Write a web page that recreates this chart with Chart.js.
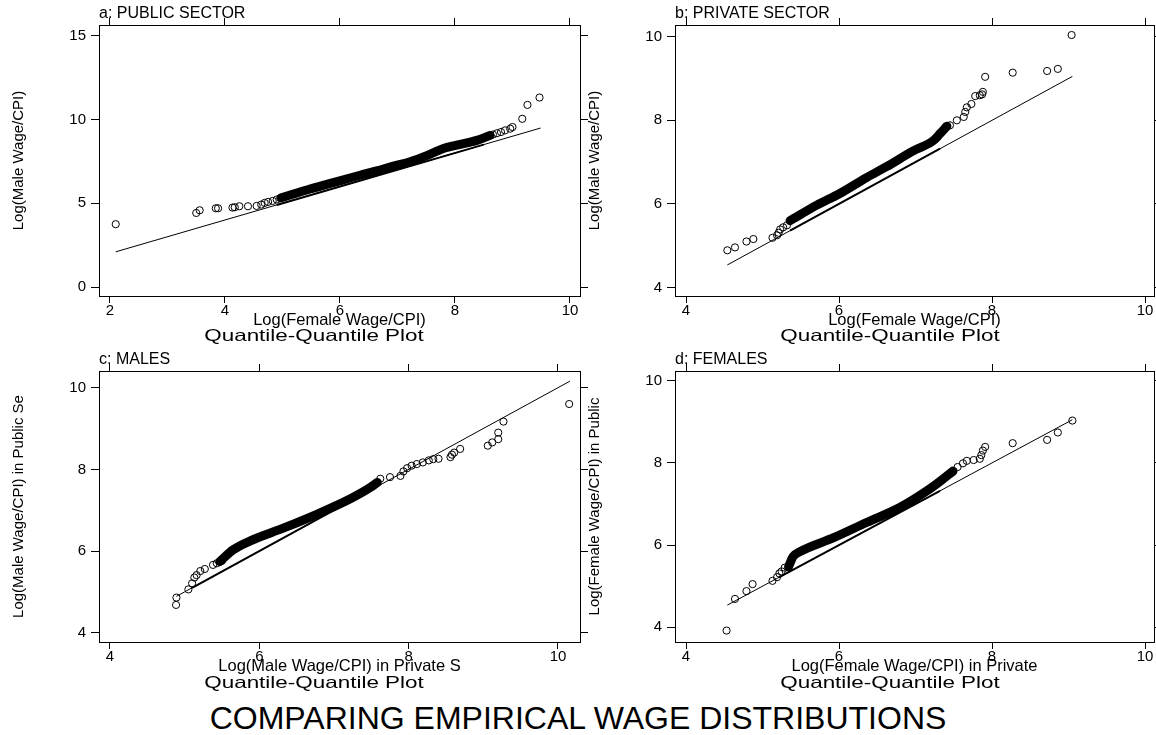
<!DOCTYPE html>
<html>
<head>
<meta charset="utf-8">
<script src="https://cdn.jsdelivr.net/npm/chart.js@4.4.1/dist/chart.umd.min.js"></script>
<style>
  html, body { margin: 0; padding: 0; background: #fff; }
  body { width: 1156px; height: 735px; position: relative; overflow: hidden; font-family: "Liberation Sans", Arial, sans-serif; color: #000; }
  canvas { position: absolute; }
  .sub { position: absolute; width: 400px; text-align: center; font-size: 16.5px; line-height: 1; white-space: nowrap;
         transform: scaleX(1.36); transform-origin: 50% 50%; }
  #mainTitle { position: absolute; left: 0; width: 1156px; top: 702px; text-align: center; font-size: 32px; line-height: 1; white-space: nowrap; }
</style>
</head>
<body>
<canvas id="qqA" width="600" height="350" style="left:0px;top:0px"></canvas>
<canvas id="qqB" width="590" height="350" style="left:576px;top:0px"></canvas>
<canvas id="qqC" width="600" height="350" style="left:0px;top:346px"></canvas>
<canvas id="qqD" width="590" height="350" style="left:576px;top:346px"></canvas>
<div class="sub" style="left:114px;top:327px">Quantile-Quantile Plot</div>
<div class="sub" style="left:690px;top:327px">Quantile-Quantile Plot</div>
<div class="sub" style="left:114px;top:673.5px">Quantile-Quantile Plot</div>
<div class="sub" style="left:690px;top:673.5px">Quantile-Quantile Plot</div>
<div id="mainTitle">COMPARING EMPIRICAL WAGE DISTRIBUTIONS</div>
<script>
const FONT = '"Liberation Sans", Arial, sans-serif';

// a: public sector, female vs male quantiles
const xTicksA = [2, 4, 6, 8, 10];
const yTicksA = [0, 5, 10, 15];
const ptsAx = [2.10, 3.50, 3.56, 3.84, 3.88, 4.13, 4.17, 4.25, 4.40, 4.55, 4.63, 4.69, 4.75, 4.83, 4.90, 4.96,
               8.66, 8.73, 8.80, 8.87, 8.96, 9.00, 9.17, 9.26, 9.47];
const ptsAy = [3.75, 4.42, 4.58, 4.70, 4.70, 4.74, 4.76, 4.82, 4.82, 4.84, 4.92, 5.02, 5.08, 5.14, 5.22, 5.30,
               9.10, 9.18, 9.25, 9.35, 9.45, 9.55, 10.04, 10.87, 11.31];
const bandAx = [4.98, 5.19, 5.48, 5.77, 6.06, 6.35, 6.64, 6.93, 7.22, 7.51, 7.80, 8.09, 8.38, 8.61];
const bandAy = [5.33, 5.55, 5.85, 6.13, 6.40, 6.67, 6.93, 7.22, 7.48, 7.84, 8.27, 8.51, 8.75, 9.05];
const refA = [2.10, 9.49];
const refDenseA = [4.90, 8.50];

// b: private sector
const xTicksB = [4, 6, 8, 10];
const yTicksB = [4, 6, 8, 10];
const ptsBx = [4.54, 4.64, 4.79, 4.88, 5.13, 5.19, 5.21, 5.23, 5.27, 5.32,
               7.45, 7.54, 7.63, 7.65, 7.67, 7.73, 7.78, 7.84, 7.87, 7.88, 7.91, 8.27, 8.72, 8.86, 9.04];
const ptsBy = [4.89, 4.96, 5.10, 5.16, 5.19, 5.25, 5.31, 5.39, 5.44, 5.49,
               7.88, 8.00, 8.08, 8.20, 8.31, 8.39, 8.58, 8.60, 8.62, 8.68, 9.04, 9.14, 9.18, 9.23, 10.04];
const bandBx = [5.36, 5.71, 6.01, 6.36, 6.62, 6.97, 7.23, 7.32, 7.41];
const bandBy = [5.60, 5.97, 6.25, 6.63, 6.89, 7.27, 7.51, 7.68, 7.86];
const refB = [4.54, 9.05];
const refDenseB = [5.36, 7.32];

// c: males, private vs public
const xTicksC = [4, 6, 8, 10];
const yTicksC = [4, 6, 8, 10];
const ptsCx = [4.885, 4.89, 5.05, 5.10, 5.13, 5.16, 5.21, 5.27, 5.38, 5.43, 5.50,
               7.62, 7.75, 7.89, 7.93, 7.98, 8.04, 8.11, 8.19, 8.27, 8.33, 8.40, 8.56, 8.58, 8.61, 8.69,
               9.06, 9.12, 9.20, 9.20, 9.27, 10.15];
const ptsCy = [4.68, 4.86, 5.06, 5.21, 5.35, 5.41, 5.51, 5.56, 5.66, 5.70, 5.76,
               7.77, 7.81, 7.84, 7.95, 8.03, 8.09, 8.13, 8.17, 8.22, 8.25, 8.26, 8.30, 8.36, 8.41, 8.50,
               8.58, 8.66, 8.74, 8.90, 9.17, 9.60];
const bandCx = [5.47, 5.65, 5.88, 6.32, 6.77, 7.22, 7.49, 7.58];
const bandCy = [5.74, 6.03, 6.25, 6.56, 6.90, 7.28, 7.56, 7.68];
const refC = [4.89, 10.16];
const refDenseC = [5.10, 7.40];

// d: females, private vs public
const xTicksD = [4, 6, 8, 10];
const yTicksD = [4, 6, 8, 10];
const ptsDx = [4.53, 4.64, 4.79, 4.87, 5.13, 5.19, 5.22, 5.25, 5.29,
               7.55, 7.62, 7.67, 7.76, 7.84, 7.86, 7.88, 7.91, 8.27, 8.72, 8.86, 9.05];
const ptsDy = [3.92, 4.69, 4.88, 5.05, 5.13, 5.22, 5.31, 5.36, 5.45,
               7.90, 7.99, 8.05, 8.07, 8.10, 8.19, 8.30, 8.39, 8.48, 8.56, 8.74, 9.03];
const bandDx = [5.34, 5.40, 5.49, 5.93, 6.36, 6.80, 7.15, 7.32, 7.49];
const bandDy = [5.47, 5.72, 5.84, 6.18, 6.55, 6.92, 7.32, 7.55, 7.80];
const refD = [4.54, 9.05];
const refDenseD = [5.22, 7.32];

function toXY(xs, ys) {
  return xs.map((x, i) => ({ x: x, y: ys[i] }));
}

function qqChart(id, p) {
  const setTicks = vals => scale => { scale.ticks = vals.map(v => ({ value: v })); };
  const frame = { display: true, color: '#000', width: 1 };
  const grid = len => ({ display: true, drawOnChartArea: false, drawTicks: true, tickLength: len, color: '#000', lineWidth: 1 });
  const tickFont = { family: FONT, size: 15, lineHeight: 1 };

  new Chart(document.getElementById(id), {
    type: 'scatter',
    data: {
      datasets: [
        { data: toXY(p.px, p.py), pointStyle: 'circle', pointRadius: 3.6, borderWidth: 1,
          borderColor: '#000', backgroundColor: 'rgba(0,0,0,0)' },
        { type: 'line', data: toXY(p.bx, p.by), borderColor: '#000', borderWidth: 9, pointRadius: 0,
          cubicInterpolationMode: 'monotone', borderCapStyle: 'round', borderJoinStyle: 'round', fill: false },
        { type: 'line', data: toXY(p.refDense, p.refDense), borderColor: '#000', borderWidth: 2, pointRadius: 0, fill: false },
        { type: 'line', data: toXY(p.ref, p.ref), borderColor: '#000', borderWidth: 1, pointRadius: 0, fill: false }
      ]
    },
    options: {
      responsive: false,
      animation: false,
      devicePixelRatio: 1,
      events: [],
      layout: { padding: 0, autoPadding: false },
      plugins: { legend: { display: false }, tooltip: { enabled: false } },
      scales: {
        x: {
          type: 'linear', position: 'bottom', min: p.xMin, max: p.xMax,
          afterBuildTicks: setTicks(p.xTicks),
          afterFit: s => { s.height = 54; },
          ticks: { font: tickFont, color: '#000', padding: 0, maxRotation: 0, autoSkip: false },
          grid: grid(7), border: frame,
          title: { display: true, text: p.xTitle, color: '#000',
                   font: { family: FONT, size: 16.5, lineHeight: 1.2 }, padding: { top: 0, bottom: 19.5 } }
        },
        y: {
          type: 'linear', position: 'left', min: p.yMin, max: p.yMax,
          afterBuildTicks: setTicks(p.yTicks),
          afterFit: s => { s.width = 99; },
          ticks: { font: tickFont, color: '#000', padding: 5 },
          grid: grid(8), border: frame,
          title: { display: true, text: p.yTitle, color: '#000',
                   font: { family: FONT, size: 15, lineHeight: 1.2 }, padding: { top: 9.5, bottom: 0 } }
        },
        x2: {
          type: 'linear', position: 'top', min: p.xMin, max: p.xMax,
          afterBuildTicks: setTicks(p.xTicks),
          afterFit: s => { s.height = 25; },
          ticks: { display: false },
          grid: grid(7), border: frame,
          title: { display: true, text: p.label, align: 'start', color: '#000',
                   font: { family: FONT, size: 16, lineHeight: 1.2 }, padding: { top: 3.5, bottom: 0 } }
        },
        y2: {
          type: 'linear', position: 'right', min: p.yMin, max: p.yMax,
          afterBuildTicks: setTicks(p.yTicks),
          afterFit: s => { s.width = p.rightW; },
          ticks: { display: false },
          grid: grid(8), border: frame
        }
      }
    }
  });
}

qqChart('qqA', {
  label: 'a: PUBLIC SECTOR', xTitle: 'Log(Female Wage/CPI)', yTitle: 'Log(Male Wage/CPI)',
  xTicks: xTicksA, yTicks: yTicksA, xMin: 1.809, xMax: 10.174, yMin: -0.537, yMax: 15.64, rightW: 20,
  px: ptsAx, py: ptsAy, bx: bandAx, by: bandAy, ref: refA, refDense: refDenseA
});
qqChart('qqB', {
  label: 'b: PRIVATE SECTOR', xTitle: 'Log(Female Wage/CPI)', yTitle: 'Log(Male Wage/CPI)',
  xTicks: xTicksB, yTicks: yTicksB, xMin: 3.856, xMax: 10.117, yMin: 3.797, yMax: 10.28, rightW: 12,
  px: ptsBx, py: ptsBy, bx: bandBx, by: bandBy, ref: refB, refDense: refDenseB
});
qqChart('qqC', {
  label: 'c: MALES', xTitle: 'Log(Male Wage/CPI) in Private S', yTitle: 'Log(Male Wage/CPI) in Public Se',
  xTicks: xTicksC, yTicks: yTicksC, xMin: 3.853, xMax: 10.295, yMin: 3.772, yMax: 10.409, rightW: 20,
  px: ptsCx, py: ptsCy, bx: bandCx, by: bandCy, ref: refC, refDense: refDenseC
});
qqChart('qqD', {
  label: 'd: FEMALES', xTitle: 'Log(Female Wage/CPI) in Private', yTitle: 'Log(Female Wage/CPI) in Public',
  xTicks: xTicksD, yTicks: yTicksD, xMin: 3.856, xMax: 10.117, yMin: 3.642, yMax: 10.236, rightW: 12,
  px: ptsDx, py: ptsDy, bx: bandDx, by: bandDy, ref: refD, refDense: refDenseD
});
</script>
</body>
</html>
